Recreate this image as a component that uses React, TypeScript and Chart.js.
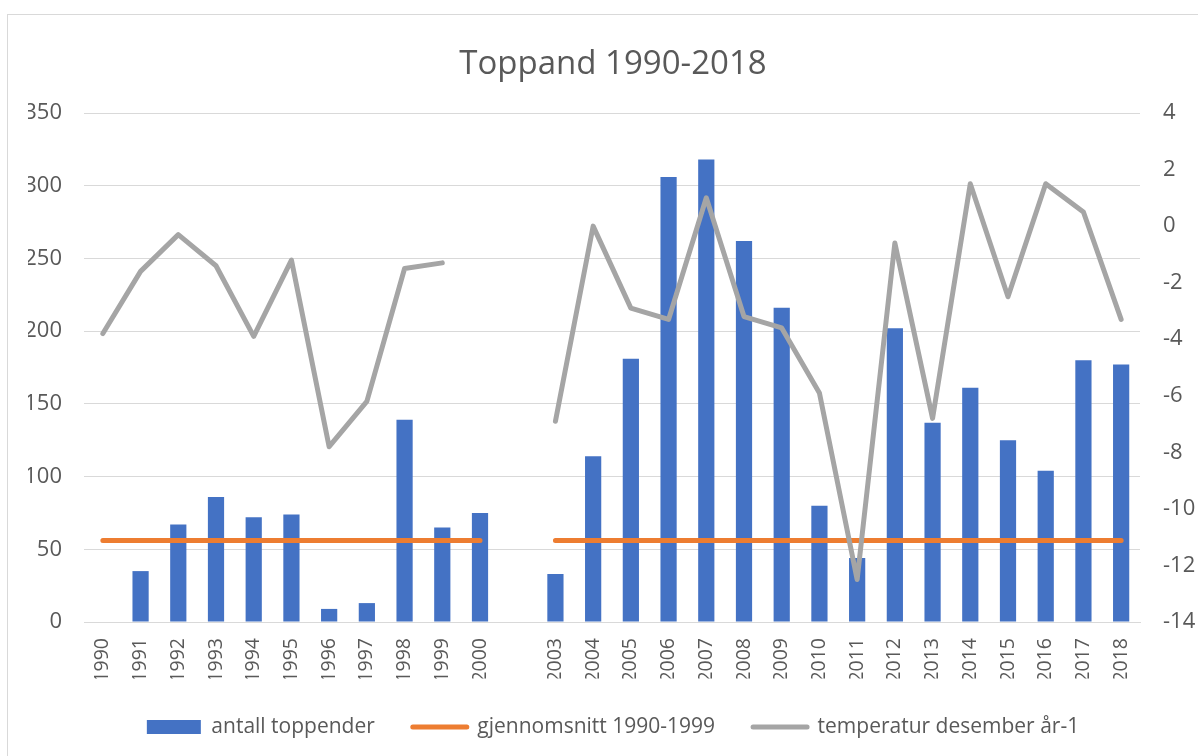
import React, { useEffect, useRef } from "react";
import { Chart, registerables } from "chart.js";

Chart.register(...registerables);

const categories = [
  "1990", "1991", "1992", "1993", "1994", "1995", "1996", "1997", "1998", "1999", "2000",
  "",
  "2003", "2004", "2005", "2006", "2007", "2008", "2009", "2010", "2011", "2012", "2013",
  "2014", "2015", "2016", "2017", "2018",
];

const antallToppender = [
  0, 35, 67, 86, 72, 74, 9, 13, 139, 65, 75,
  null,
  33, 114, 181, 306, 318, 262, 216, 80, 44, 202, 137, 161, 125, 104, 180, 177,
];

const gjennomsnitt = [
  56, 56, 56, 56, 56, 56, 56, 56, 56, 56, 56,
  null,
  56, 56, 56, 56, 56, 56, 56, 56, 56, 56, 56, 56, 56, 56, 56, 56,
];

const temperatur = [
  -3.8, -1.6, -0.3, -1.4, -3.9, -1.2, -7.8, -6.2, -1.5, -1.3, null,
  null,
  -6.9, 0.0, -2.9, -3.3, 1.0, -3.2, -3.6, -5.9, -12.5, -0.6, -6.8, 1.5, -2.5, 1.5, 0.5, -3.3,
];

const leftTicks = { min: 0, max: 350, step: 50 };
const rightTicks = { min: -14, max: 4, step: 2 };

const FONT = "'Open Sans', sans-serif";
const TEXT = "#595959";
const GRID = "#d9d9d9";

export default function App() {
  const ref = useRef<HTMLCanvasElement | null>(null);

  useEffect(() => {
    if (!ref.current) return;
    const chart = new Chart(ref.current, {
      type: "bar",
      data: {
        labels: categories,
        datasets: [
          {
            type: "bar",
            label: "antall toppender",
            data: antallToppender,
            backgroundColor: "#4472c4",
            borderWidth: 0,
            barPercentage: 0.43,
            categoryPercentage: 1,
            yAxisID: "y",
            order: 3,
          },
          {
            type: "line",
            label: "gjennomsnitt 1990-1999",
            data: gjennomsnitt,
            borderColor: "#ed7d31",
            backgroundColor: "#ed7d31",
            borderWidth: 5,
            borderCapStyle: "round",
            pointRadius: 0,
            spanGaps: false,
            yAxisID: "y",
            order: 2,
          },
          {
            type: "line",
            label: "temperatur desember år-1",
            data: temperatur,
            borderColor: "#a5a5a5",
            backgroundColor: "#a5a5a5",
            borderWidth: 5,
            borderCapStyle: "round",
            borderJoinStyle: "round",
            pointRadius: 0,
            spanGaps: false,
            tension: 0,
            yAxisID: "y1",
            order: 1,
          },
        ],
      },
      options: {
        animation: false,
        responsive: false,
        maintainAspectRatio: false,
        layout: { padding: { left: 28, right: 0, top: 0, bottom: 8.5 } },
        plugins: {
          title: {
            display: true,
            text: "Toppand 1990-2018",
            color: TEXT,
            font: { family: FONT, size: 33, weight: "normal", lineHeight: 1.2 },
            padding: { top: 45, bottom: 28.4 },
          },
          legend: {
            position: "bottom",
            labels: {
              color: TEXT,
              font: { family: FONT, size: 21 },
              usePointStyle: true,
              pointStyleWidth: 54,
              boxHeight: 14,
              padding: 38,
              sort: (a: any, b: any) => a.datasetIndex - b.datasetIndex,
              generateLabels: (chart: any) => {
                const items = Chart.defaults.plugins.legend.labels.generateLabels(chart);
                return items.map((it: any) => {
                  if (it.datasetIndex === 0) {
                    return { ...it, pointStyle: "rect", lineWidth: 0, strokeStyle: "transparent" };
                  }
                  return { ...it, pointStyle: "line", lineWidth: 5, lineCap: "round" };
                });
              },
            },
          },
          tooltip: { enabled: false },
        },
        scales: {
          x: {
            grid: { display: false, drawTicks: false },
            border: { display: true, color: GRID },
            ticks: {
              color: TEXT,
              font: { family: FONT, size: 19.5 },
              minRotation: 90,
              maxRotation: 90,
              autoSkip: false,
              padding: 16,
            },
            afterFit: (s: any) => {
              s.height = 56.5;
            },
          },
          y: {
            position: "left",
            min: leftTicks.min,
            max: leftTicks.max,
            ticks: {
              stepSize: leftTicks.step,
              color: TEXT,
              font: { family: FONT, size: 22 },
              padding: 22,
            },
            grid: { color: GRID, lineWidth: 1, drawTicks: false },
            border: { display: false },
            afterFit: (s: any) => {
              s.width = 56;
            },
          },
          y1: {
            position: "right",
            min: rightTicks.min,
            max: rightTicks.max,
            ticks: {
              stepSize: rightTicks.step,
              color: TEXT,
              font: { family: FONT, size: 22 },
              padding: 23,
            },
            grid: { display: false, drawTicks: false },
            border: { display: false },
            afterFit: (s: any) => {
              s.width = 58;
            },
          },
        },
      },
    });
    return () => chart.destroy();
  }, []);

  return (
    <div>
      <div
        style={{
          position: "absolute",
          left: 7,
          top: 14,
          width: 1200,
          height: 760,
          border: "1px solid #d9d9d9",
          boxSizing: "border-box",
        }}
      />
      <canvas
        ref={ref}
        width={1198}
        height={756}
        style={{ position: "absolute", left: 0, top: 0, width: 1198, height: 756 }}
      />
    </div>
  );
}
